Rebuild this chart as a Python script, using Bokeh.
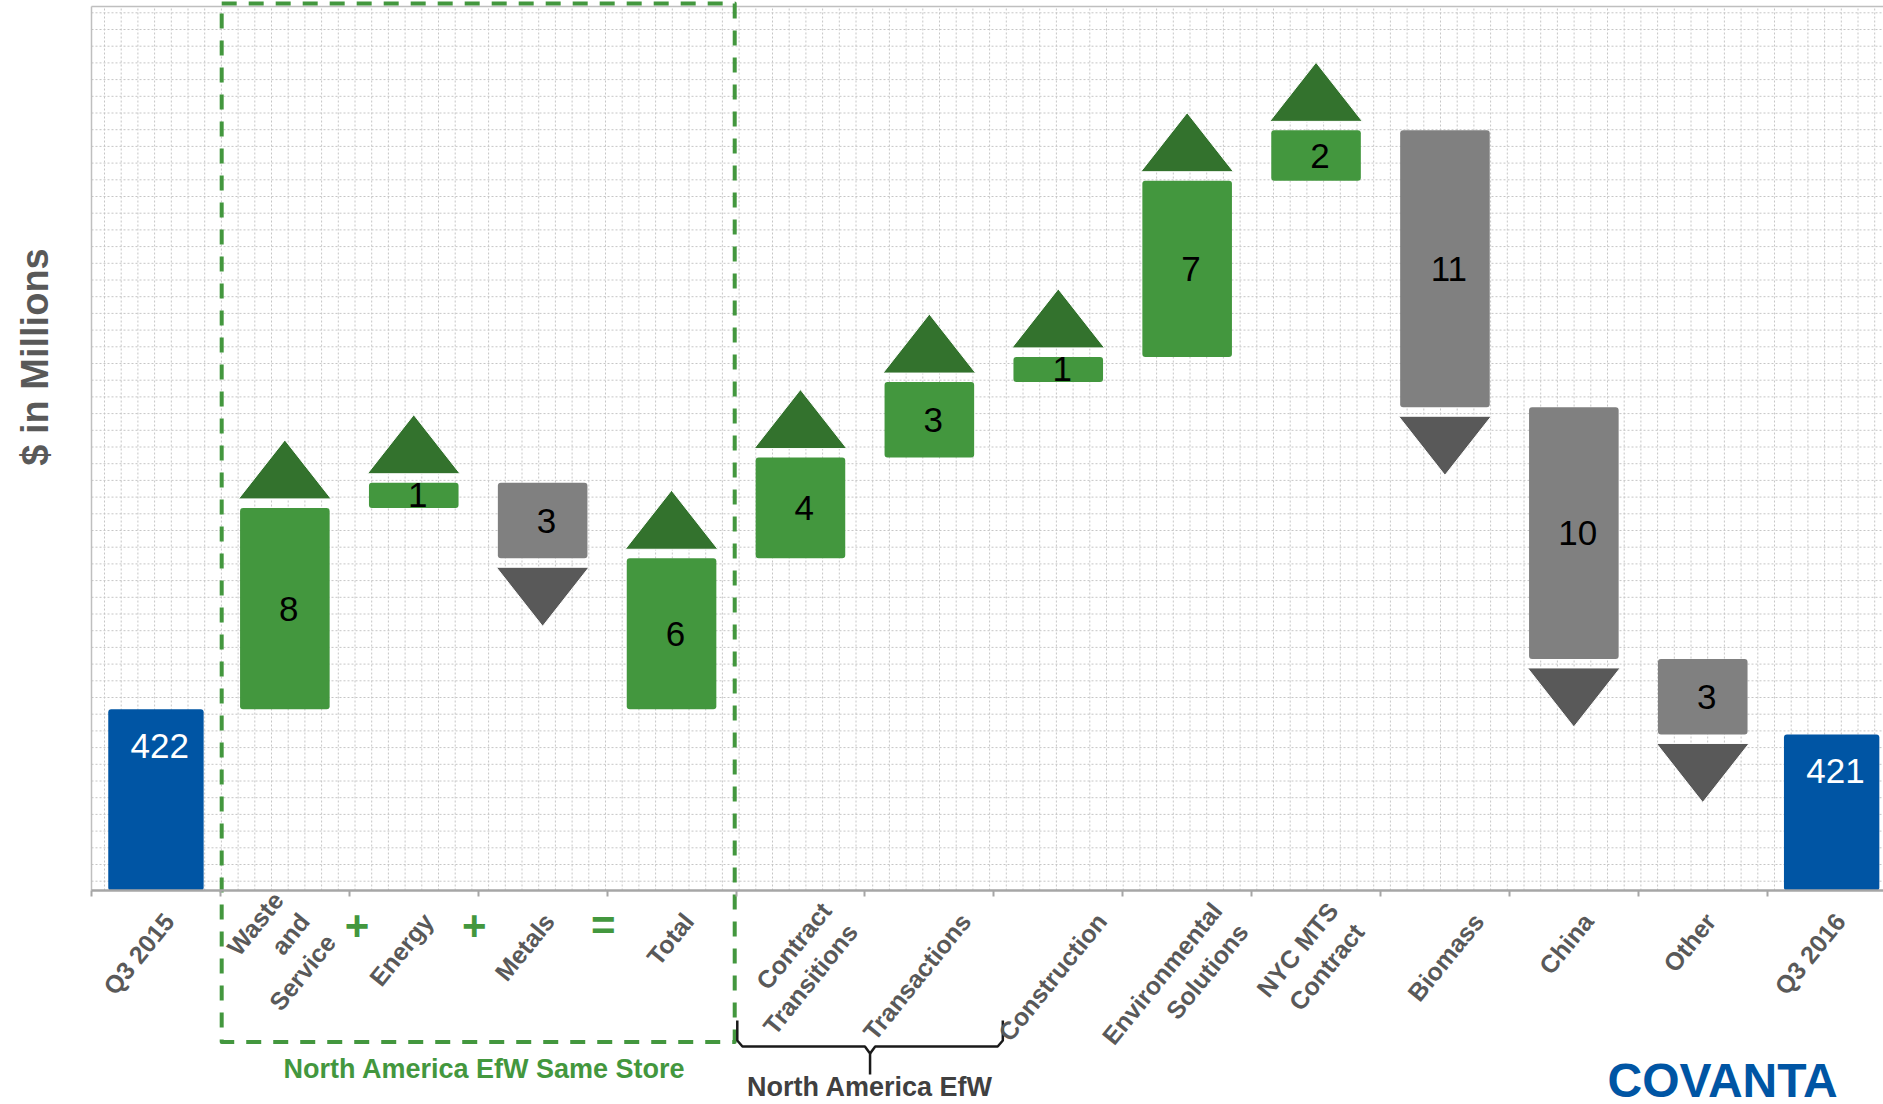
import numpy as np
from bokeh.plotting import figure
from bokeh.models import Range1d, LinearAxis, FixedTicker, Label, ColumnDataSource
from bokeh.core.properties import value
from bokeh.embed import file_html
from bokeh.resources import INLINE

# ---- chart data ($ in millions) ----
categories = ["Q3 2015", "Waste\nand\nService", "Energy", "Metals", "Total",
              "Contract\nTransitions", "Transactions", "Construction",
              "Environmental\nSolutions", "NYC MTS\nContract", "Biomass",
              "China", "Other", "Q3 2016"]
kinds = ["start", "step", "step", "step", "subtotal", "step", "step", "step",
         "step", "step", "step", "step", "step", "end"]
amounts = [422, 8, 1, -3, 6, 4, 3, 1, 7, 2, -11, -10, -3, 421]

# horizontal nudge of each rotated category label (in category slots)
label_nudge = [0.10, 0.15, 0.11, 0.05, 0.13, 0.30, 0.28, 0.335, 0.33, 0.23,
               0.26, 0.11, 0.06, 0.065]

# ---- geometry of the canvas ----
W, H = 1883, 1104
PX_X = 128.9          # pixels per category slot
PX_Y = 25.17          # pixels per $1M
LEFT_PX = 91          # left edge of plotting area
AXIS_PX = 890         # axis line, from top
AXIS_Y = 414.8        # value at the (broken) baseline

x_start = -LEFT_PX / PX_X
x_end = (W - LEFT_PX) / PX_X
y_end = AXIS_Y + AXIS_PX / PX_Y
y_start = AXIS_Y - (H - AXIS_PX) / PX_Y


def xpx(px):
    return x_start + px / PX_X


def ypx(px):
    return y_end - px / PX_Y


FONT = "Liberation Sans"
BLUE = "#0055A4"
GREEN = "#43973E"
DARK_GREEN = "#33722D"
GREY = "#808080"
DARK_GREY = "#595959"

# ---- waterfall geometry from the amounts ----
lefts, rights, bottoms, tops, colors = [], [], [], [], []
lab_x, lab_y, lab_text, lab_color = [], [], [], []
tri_xs, tri_ys, tri_colors = [], [], []
GAP = 9 / PX_Y
TRI_H = 59 / PX_Y

running = None
group_start = None
for i, (kind, amt) in enumerate(zip(kinds, amounts)):
    c = i + 0.5
    if kind in ("start", "end"):
        half = 0.37
        lo, hi = AXIS_Y, amt
        running = amt
        group_start = amt
        col = BLUE
        ly = hi - 37 / PX_Y
        lcol = "white"
        text = str(amt)
    else:
        half = 0.3475
        if kind == "subtotal":
            a, b = group_start, group_start + amt
        else:
            a, b = running, running + amt
            running += amt
        lo, hi = min(a, b), max(a, b)
        col = GREEN if amt > 0 else GREY
        ly = (lo + hi) / 2
        lcol = "black"
        text = str(abs(amt))
        th = half + 0.012
        if amt > 0:
            base = hi + GAP
            tri_xs.append([c - th, c + th, c])
            tri_ys.append([base, base, base + TRI_H])
            tri_colors.append(DARK_GREEN)
        else:
            base = lo - GAP
            tri_xs.append([c - th, c + th, c])
            tri_ys.append([base, base, base - TRI_H])
            tri_colors.append(DARK_GREY)
    lefts.append(c - half)
    rights.append(c + half)
    bottoms.append(lo)
    tops.append(hi)
    colors.append(col)
    lab_x.append(c + 0.03)
    lab_y.append(ly)
    lab_text.append(text)
    lab_color.append(lcol)

bars = ColumnDataSource(dict(left=lefts, right=rights, bottom=bottoms, top=tops, color=colors))
labels = ColumnDataSource(dict(x=lab_x, y=lab_y, text=lab_text, color=lab_color))
arrows = ColumnDataSource(dict(xs=tri_xs, ys=tri_ys, color=tri_colors))

p = figure(width=W, height=H, x_range=Range1d(x_start, x_end),
           y_range=Range1d(y_start, y_end), x_axis_type=None, y_axis_type=None,
           toolbar_location=None, output_backend="svg", min_border=0)
p.outline_line_color = None
p.background_fill_color = "white"
p.border_fill_color = "white"

# dotted background grid inside the plotting area
top_y = ypx(6)
gx = np.arange(xpx(104), x_end, 16.7 / PX_X)
gy = np.arange(ypx(12.3), AXIS_Y, -16.7 / PX_Y)
p.segment(x0=gx, y0=[AXIS_Y] * len(gx), x1=gx, y1=[top_y] * len(gx),
          line_color="#c6c6c6", line_width=1, line_dash="2 2")
p.segment(x0=[0] * len(gy), y0=gy, x1=[x_end] * len(gy), y1=gy,
          line_color="#c6c6c6", line_width=1, line_dash="2 2")

# frame edges (left and top)
p.segment(x0=[0, 0], y0=[AXIS_Y, top_y], x1=[0, x_end], y1=[top_y, top_y],
          line_color="#bfbfbf", line_width=1.5)

# bars, arrows and values
p.quad(left="left", right="right", bottom="bottom", top="top", source=bars,
       fill_color="color", line_color=None, border_radius=3)
p.patches(xs="xs", ys="ys", source=arrows, fill_color="color",
          line_color="white", line_width=1)
p.text(x="x", y="y", text="text", source=labels, text_color="color",
       text_font=value(FONT), text_font_size="35px", text_align="center",
       text_baseline="middle")

# category axis with boundary ticks
label_pos = [i + 0.5 + label_nudge[i] for i in range(len(categories))]
xaxis = LinearAxis(fixed_location=AXIS_Y, bounds=(0, x_end))
xaxis.ticker = FixedTicker(ticks=label_pos, minor_ticks=list(range(len(categories))))
xaxis.major_label_overrides = {pos: lab for pos, lab in zip(label_pos, categories)}
xaxis.major_label_orientation = np.deg2rad(51)
xaxis.major_label_text_font = FONT
xaxis.major_label_text_font_style = "bold"
xaxis.major_label_text_font_size = "25px"
xaxis.major_label_text_color = DARK_GREY
xaxis.major_label_standoff = 20
xaxis.major_tick_line_color = None
xaxis.minor_tick_line_color = "#a6a6a6"
xaxis.minor_tick_line_width = 2
xaxis.minor_tick_in = 0
xaxis.minor_tick_out = 6
xaxis.axis_line_color = "#a6a6a6"
xaxis.axis_line_width = 2.5
p.add_layout(xaxis, "below")

# y axis title
p.add_layout(Label(x=xpx(34), y=ypx(356.5), text="$ in Millions", angle=np.pi / 2,
                   text_align="center", text_baseline="alphabetic", text_font=FONT,
                   text_font_size="38px", text_font_style="bold", text_color=DARK_GREY))

# same-store group: dashed frame, operators and caption
p.quad(left=[1.01], right=[4.99], bottom=[ypx(1041.5)], top=[ypx(3)],
       fill_color=None, line_color=GREEN, line_width=4, line_dash="15 12",
       line_join="round")
for sx, sym in [(2.06, "+"), (2.97, "+"), (3.97, "=")]:
    p.add_layout(Label(x=sx, y=ypx(925), text=sym, text_align="center",
                       text_baseline="middle", text_font=FONT, text_font_size="42px",
                       text_font_style="bold", text_color=GREEN))
p.add_layout(Label(x=xpx(484), y=ypx(1068), text="North America EfW Same Store",
                   text_align="center", text_baseline="middle", text_font=FONT,
                   text_font_size="27px", text_font_style="bold", text_color=GREEN))

# brace under the North America EfW items
bl, br = 5.01, 7.07
bm = (bl + br) / 2
dx = 0.04
y_end_b, y_h, y_tip = ypx(1020), ypx(1046), ypx(1074)
p.line(x=[bl, bl, bl + dx, bm - dx, bm, bm],
       y=[y_end_b, ypx(1040), y_h, y_h, ypx(1053), y_tip],
       line_color="#1a1a1a", line_width=2.5)
p.line(x=[br, br, br - dx, bm + dx, bm],
       y=[y_end_b, ypx(1040), y_h, y_h, ypx(1053)],
       line_color="#1a1a1a", line_width=2.5)
p.add_layout(Label(x=bm, y=ypx(1086), text="North America EfW",
                   text_align="center", text_baseline="middle", text_font=FONT,
                   text_font_size="27px", text_font_style="bold", text_color="#404040"))

# company wordmark
p.add_layout(Label(x=xpx(1607), y=ypx(1080), text="COVANTA", text_align="left",
                   text_baseline="alphabetic", text_font=FONT,
                   text_font_size="48px", text_font_style="bold", text_color=BLUE))

open("out.html", "w").write(file_html(p, INLINE))
